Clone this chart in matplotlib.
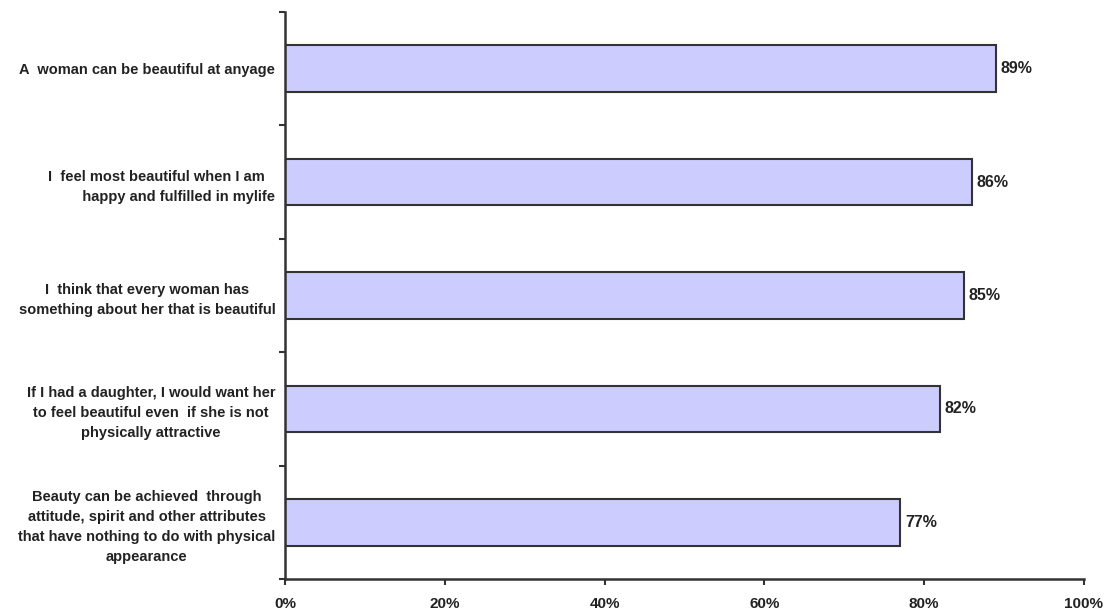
import matplotlib.pyplot as plt
from matplotlib.ticker import FuncFormatter

statements = [
    "A  woman can be beautiful at anyage",
    "I  feel most beautiful when I am\n           happy and fulfilled in mylife",
    "I  think that every woman has\nsomething about her that is beautiful",
    "If I had a daughter, I would want her\nto feel beautiful even  if she is not\nphysically attractive",
    "Beauty can be achieved  through\nattitude, spirit and other attributes\nthat have nothing to do with physical\nappearance",
]
agree_pct = [89, 86, 85, 82, 77]
x_ticks = [0, 20, 40, 60, 80, 100]


def create_beauty_chart():
    plt.rcParams['font.family'] = ['Liberation Sans', 'DejaVu Sans']
    fig = plt.figure(figsize=(11.12, 6.09), dpi=100)
    ax = fig.add_axes([0.2563, 0.0493, 0.7185, 0.9310])

    ypos = list(range(len(statements)))
    ax.barh(ypos, agree_pct, height=0.41, color='#ccccff',
            edgecolor='#333333', linewidth=1.5)

    for y, v in zip(ypos, agree_pct):
        ax.text(v + 0.6, y, f"{v}%", va='center', ha='left',
                fontsize=11.5, fontweight='bold', color='#222222')

    ax.set_xlim(0, 100)
    ax.set_ylim(len(statements) - 0.5, -0.5)

    ax.set_xticks(x_ticks)
    ax.xaxis.set_major_formatter(FuncFormatter(lambda v, p: f"{v:.0f}%"))
    ax.tick_params(axis='x', length=4, width=1.5, color='#333333', pad=9,
                   labelsize=11, labelcolor='#222222')
    for lbl in ax.get_xticklabels():
        lbl.set_fontweight('bold')

    # category labels at the bar centres, small ticks on the boundaries
    ax.set_yticks(ypos)
    ax.set_yticklabels(statements, fontsize=10.5, fontweight='bold',
                       color='#222222', multialignment='center',
                       linespacing=1.55)
    ax.set_yticks([y - 0.5 for y in range(len(statements) + 1)], minor=True)
    ax.tick_params(axis='y', which='major', length=0, pad=7)
    ax.tick_params(axis='y', which='minor', length=4, width=1.5, color='#333333')

    for side in ['top', 'right']:
        ax.spines[side].set_visible(False)
    for side in ['left', 'bottom']:
        ax.spines[side].set_linewidth(1.8)
        ax.spines[side].set_color('#333333')

    fig.savefig("out.png", dpi=100)


if __name__ == "__main__":
    create_beauty_chart()
